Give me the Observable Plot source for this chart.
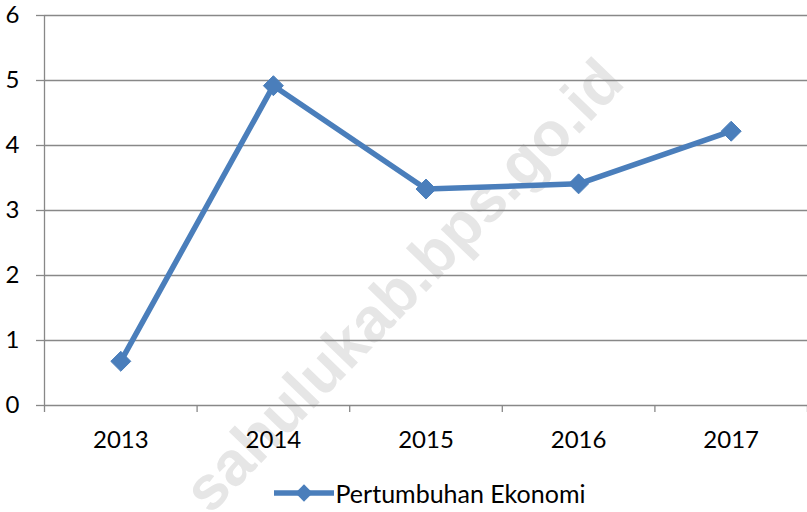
<!DOCTYPE html>
<html>
<head>
<meta charset="utf-8">
<script src="https://cdn.jsdelivr.net/npm/d3@7"></script>
<script src="https://cdn.jsdelivr.net/npm/@observablehq/plot@0.6"></script>
<style>
  html, body { margin: 0; padding: 0; background: #fff; }
  #wrap { position: relative; width: 807px; height: 512px; overflow: hidden; font-family: Lato, "Open Sans", sans-serif; }
  #wm { position: absolute; left: 403px; top: 285px; transform: translate(-50%, -50%) rotate(-46deg);
        font-family: "Liberation Sans", Arial, sans-serif; font-weight: bold; font-size: 62px; color: #e6e6e6;
        white-space: nowrap; z-index: 0; }
  #chart { position: absolute; left: 0; top: 0; z-index: 1; }
  #chart svg { background: transparent; }
  #legend { position: absolute; left: 26px; top: 478px; width: 807px; height: 30px; display: flex; justify-content: center; align-items: center; z-index: 1; font-size: 25px; color: #000; }
  #legend svg { margin-right: 2px; }
</style>
</head>
<body>
<div id="wrap">
  <div id="wm">sahulukab.bps.go.id</div>
  <div id="chart"></div>
  <div id="legend"></div>
</div>
<script>
const years = ["2013", "2014", "2015", "2016", "2017"];
const growth = [0.68, 4.92, 3.33, 3.41, 4.22];
const yTicks = [0, 1, 2, 3, 4, 5, 6];
const seriesName = "Pertumbuhan Ekonomi";
const lineColor = "#4a7ebb";
const gridColor = "#888888";

const data = years.map((yr, i) => ({i, year: yr, value: growth[i]}));
const boundaries = d3.range(-0.5, years.length, 1);

const chart = Plot.plot({
  width: 807,
  height: 460,
  marginLeft: 44,
  marginRight: 0,
  marginTop: 15,
  marginBottom: 55,
  style: {fontFamily: "Lato, 'Open Sans', sans-serif", fontSize: "24px", color: "#000", background: "transparent"},
  x: {type: "linear", domain: [-0.5, years.length - 0.5]},
  y: {domain: [0, 6]},
  marks: [
    Plot.ruleY(yTicks, {y: d => d, stroke: gridColor, strokeWidth: 1.3}),
    Plot.ruleX([-0.5], {y1: 0, y2: 6, stroke: gridColor, strokeWidth: 1.3}),
    Plot.axisY({ticks: yTicks, tickSize: 8, tickPadding: 17, tickFormat: d3.format("d"), stroke: gridColor, label: null, fill: "#000", strokeOpacity: 1, strokeWidth: 1.3}),
    Plot.axisX({ticks: boundaries, tickSize: 7, tickFormat: () => "", stroke: gridColor, strokeOpacity: 1, strokeWidth: 1.3, label: null}),
    Plot.axisX({ticks: d3.range(years.length), tickSize: 0, tickPadding: 25, tickFormat: i => years[i], label: null, fill: "#000"}),
    Plot.line(data, {x: "i", y: "value", stroke: lineColor, strokeWidth: 5.5, strokeLinejoin: "round"}),
    Plot.dot(data, {x: "i", y: "value", symbol: "diamond2", r: 9, fill: lineColor, stroke: lineColor, strokeWidth: 1})
  ]
});
document.getElementById("chart").appendChild(chart);

// Legend
const lg = document.getElementById("legend");
const sw = d3.create("svg").attr("width", 60).attr("height", 22);
sw.append("line").attr("x1", 1).attr("x2", 59).attr("y1", 11).attr("y2", 11).attr("stroke", lineColor).attr("stroke-width", 5.5).attr("stroke-linecap", "round");
sw.append("path").attr("d", d3.symbol(d3.symbolDiamond2, 190)()).attr("transform", "translate(30,11)").attr("fill", lineColor);
lg.appendChild(sw.node());
const t = document.createElement("span");
t.textContent = seriesName;
lg.appendChild(t);
</script>
</body>
</html>
